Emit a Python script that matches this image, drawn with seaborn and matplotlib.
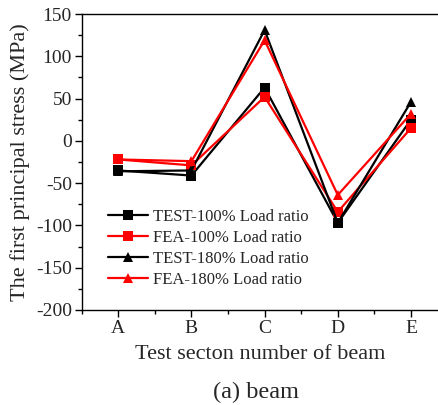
import numpy as np
import pandas as pd
import matplotlib
matplotlib.use("Agg")
import matplotlib.pyplot as plt
from matplotlib.ticker import MultipleLocator
import seaborn as sns

sections = ["A", "B", "C", "D", "E"]
test_100 = [-35, -41, 63, -97, 25]
fea_100 = [-22, -29, 52, -84, 15]
test_180 = [-36, -35, 131, -97, 46]
fea_180 = [-22, -24, 119, -64, 32]

series_names = ["TEST-100% Load ratio", "FEA-100% Load ratio",
                "TEST-180% Load ratio", "FEA-180% Load ratio"]
series_values = [test_100, fea_100, test_180, fea_180]
series_colors = ["black", "red", "black", "red"]
series_markers = ["s", "s", "^", "^"]

sns.set_style("white")
plt.rcParams["font.family"] = ["Liberation Serif", "DejaVu Serif"]
plt.rcParams["axes.unicode_minus"] = False

frames = []
for name, vals in zip(series_names, series_values):
    frames.append(pd.DataFrame({"pos": np.arange(1, len(sections) + 1),
                                "stress": vals, "series": name}))
df = pd.concat(frames, ignore_index=True)

fig = plt.figure(figsize=(4.38, 4.05), dpi=100)
ax = fig.add_axes([0.1865, 0.2346, 0.8135, 0.7308])

for name, color, marker in zip(series_names, series_colors, series_markers):
    sub = df[df["series"] == name]
    sns.lineplot(data=sub, x="pos", y="stress", ax=ax, color=color,
                 marker=marker, markersize=6.5, markeredgewidth=0,
                 linewidth=1.6, label=name, estimator=None, sort=False)

ax.set_xlim(0.5, 5.37)
ax.set_ylim(-200, 150)
ax.set_xticks(np.arange(1, len(sections) + 1))
ax.set_xticklabels(sections)
ax.xaxis.set_minor_locator(MultipleLocator(0.5))
ax.yaxis.set_major_locator(MultipleLocator(50))
ax.yaxis.set_minor_locator(MultipleLocator(25))

for side in ["left", "top", "bottom"]:
    ax.spines[side].set_visible(True)
    ax.spines[side].set_color("black")
    ax.spines[side].set_linewidth(1.0)
ax.spines["right"].set_visible(False)

ax.tick_params(axis="both", which="major", direction="out", length=5,
               width=1.0, labelsize=14, color="black", pad=2,
               left=True, bottom=True, top=False, right=False)
ax.tick_params(axis="both", which="minor", direction="out", length=3,
               width=1.0, color="black",
               left=True, bottom=True, top=False, right=False)

ax.set_xlabel("Test secton number of beam", fontsize=16, labelpad=6)
ax.set_ylabel("The first principal stress (MPa)", fontsize=16, labelpad=4)

leg = ax.legend(loc="upper left", bbox_to_anchor=(0.055, 0.365),
                frameon=False, fontsize=12, handlelength=2.4,
                handletextpad=0.3, labelspacing=0.3, borderaxespad=0)

fig.text(0.585, 0.032, "(a) beam", ha="center", va="center", fontsize=17.5)

fig.savefig("out.png", dpi=100)
